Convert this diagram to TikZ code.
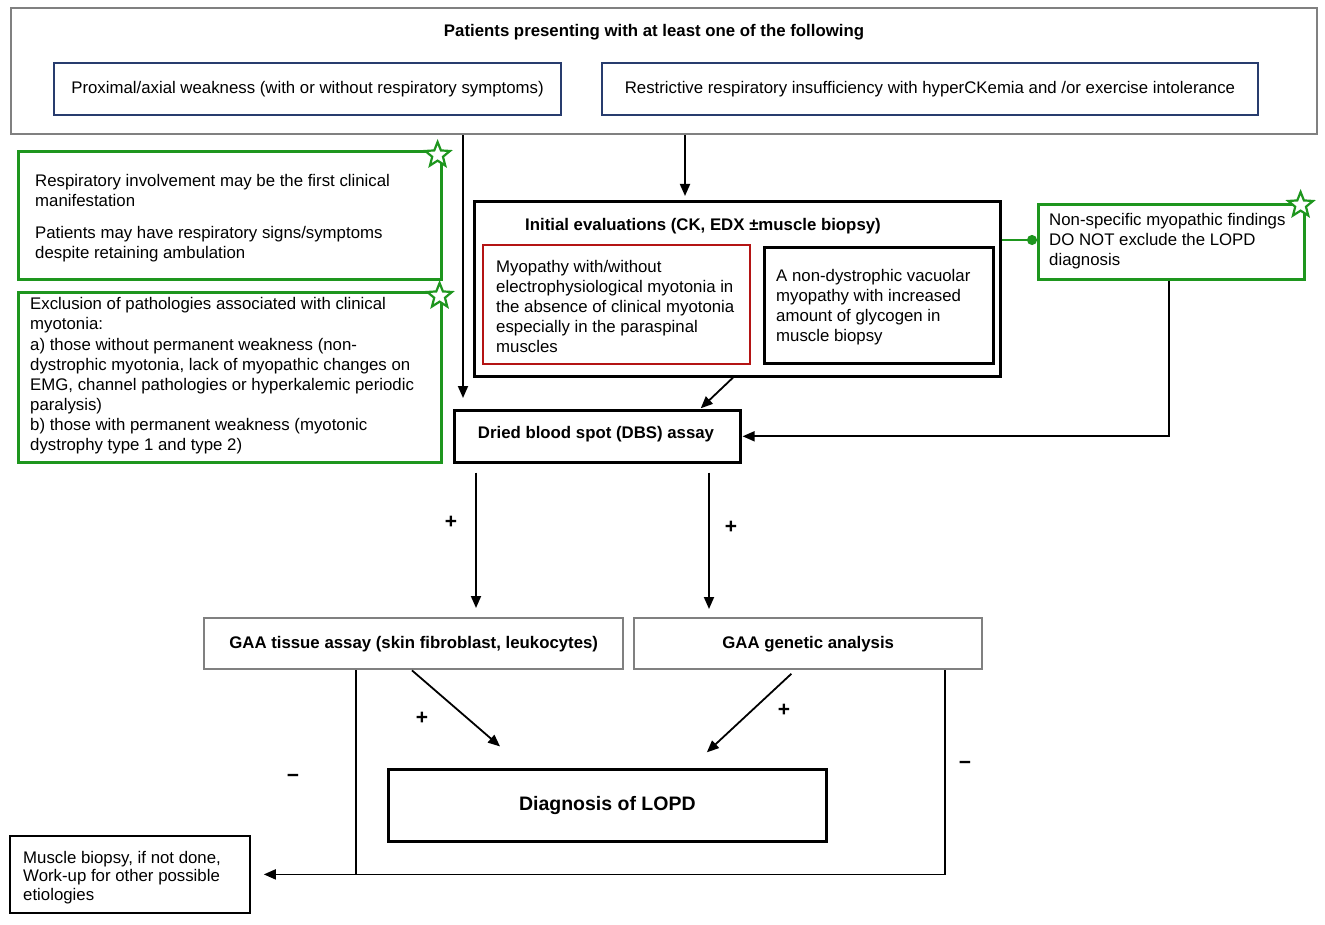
\documentclass[tikz,border=0pt]{standalone}
\usepackage{fontspec}
\setmainfont{Liberation Sans}
\usetikzlibrary{arrows.meta,shapes.geometric}
\definecolor{mygreen}{RGB}{30,150,30}
\definecolor{myblue}{RGB}{40,60,110}
\definecolor{mygray}{RGB}{128,128,128}
\definecolor{myred}{RGB}{180,20,20}
\tikzset{
  every node/.style={font=\fontsize{16.8}{20.1}\selectfont},
  bx/.style={anchor=north west, inner sep=0pt},
  graybox/.style={bx, draw=mygray, line width=2.4pt},
  bluebox/.style={bx, draw=myblue, line width=2pt},
  blackbox/.style={bx, draw=black, line width=2.6pt},
  greenbox/.style={bx, draw=mygreen, line width=2.6pt},
  redbox/.style={bx, draw=myred, line width=2.4pt},
  txt/.style={anchor=north west, align=left, inner sep=0pt},
  bold/.style={font=\fontsize{16.8}{20.1}\selectfont\bfseries},
  arr/.style={draw=black, line width=1.8pt, -{Triangle[length=12pt,width=10pt]}},
  ln/.style={draw=black, line width=1.8pt},
  sgn/.style={font=\fontsize{21}{22}\selectfont\bfseries},
  starmark/.style={star, star points=5, star point ratio=2.3, draw=mygreen, line width=2.2pt, fill=white, minimum size=26pt, inner sep=0pt},
}
\begin{document}
\begin{tikzpicture}[x=1pt,y=-1pt]
\useasboundingbox (0,0) rectangle (1325,925);
% helper coordinates
\foreach \xx in {463,685,476,709,412,525,795,690,356,945,733,700,1169}{\coordinate (c\xx) at (\xx,0);}
\coordinate (r240) at (0,240);
% top box
\node[graybox, minimum width=1306pt, minimum height=126pt] (top) at (10,7) {};
\node[bold] (title) at (654,32) {Patients presenting with at least one of the following};
\node[bluebox, minimum width=507pt, minimum height=52pt] (b1) at (53,62) {Proximal/axial weakness (with or without respiratory symptoms)};
\node[bluebox, minimum width=656pt, minimum height=52pt] (b2) at (601,62) {Restrictive respiratory insufficiency with hyperCKemia and /or exercise intolerance};
% green boxes left
\node[greenbox, minimum width=423pt, minimum height=128pt] (g1) at (17,150) {};
\node[txt] (g1t) at (35,174) {Respiratory involvement may be the first clinical\\manifestation\\[12pt]Patients may have respiratory signs/symptoms\\despite retaining ambulation};
\node[starmark] (s1) at ([xshift=-5pt,yshift=-5pt]g1.north east) {};
\node[greenbox, minimum width=423pt, minimum height=170pt] (g2) at (17,291) {};
\node[txt] (g2t) at (30,297.5) {Exclusion of pathologies associated with clinical\\myotonia:\\a) those without permanent weakness (non-\\dystrophic myotonia, lack of myopathic changes on\\EMG, channel pathologies or hyperkalemic periodic\\paralysis)\\b) those with permanent weakness (myotonic\\dystrophy type 1 and type 2)};
\node[starmark] (s2) at ([xshift=-3pt,yshift=-5pt]g2.north east) {};
% initial evaluations
\node[blackbox, minimum width=526pt, minimum height=175pt] (init) at (473,200) {};
\node[bold, anchor=west, inner sep=0pt] (initt) at (525,226) {Initial evaluations (CK, EDX ±muscle biopsy)};
\node[redbox, minimum width=267pt, minimum height=119pt] (red) at (482,244) {};
\node[txt] (redt) at (496,260) {Myopathy with/without\\electrophysiological myotonia in\\the absence of clinical myotonia\\especially in the paraspinal\\muscles};
\node[blackbox, minimum width=229pt, minimum height=116pt] (blk) at (763,246) {};
\node[txt] (blkt) at (776,269) {A non-dystrophic vacuolar\\myopathy with increased\\amount of glycogen in\\muscle biopsy};
% non-specific
\node[greenbox, minimum width=266pt, minimum height=75pt] (ns) at (1037,203) {};
\node[txt] (nst) at (1049,213) {Non-specific myopathic findings\\DO NOT exclude the LOPD\\diagnosis};
\node[starmark] (s3) at ([xshift=-5pt,yshift=-2pt]ns.north east) {};
% DBS
\node[blackbox, minimum width=286pt, minimum height=52pt] (dbs) at (453,409) {};
\node[bold] (dbst) at (596,434) {Dried blood spot (DBS) assay};
% GAA
\node[graybox, minimum width=419pt, minimum height=51pt, bold] (gt) at (203,617) {GAA tissue assay (skin fibroblast, leukocytes)};
\node[graybox, minimum width=348pt, minimum height=51pt, bold] (gg) at (633,617) {GAA genetic analysis};
% Diagnosis
\node[blackbox, minimum width=438pt, minimum height=72pt, font=\fontsize{19.5}{22}\selectfont\bfseries] (dx) at (387,768) {Diagnosis of LOPD};
% muscle biopsy
\node[bx, draw=black, line width=1.8pt, minimum width=240pt, minimum height=77pt] (mb) at (9,835) {};
\node[txt, font=\fontsize{16.8}{18.6}\selectfont] (mbt) at (23,851) {Muscle biopsy, if not done,\\Work-up for other possible\\etiologies};
% connectors
\draw[arr, shorten >=11pt] (top.south -| c463) -- (dbs.north -| c463);
\draw[arr, shorten >=4pt] (top.south -| c685) -- (init.north -| c685);
\draw[draw=mygreen, line width=1.6pt, -{Circle[length=10pt]}] (init.east |- r240) -- (ns.west |- r240);
\draw[arr, shorten >=1pt] (ns.south -| c1169) |- (dbs.east);
\draw[arr, shorten >=1pt] (init.south -| c733) -- (dbs.north -| c700);
\draw[arr, shorten <=9pt, shorten >=9pt] (dbs.south -| c476) -- (gt.north -| c476);
\draw[arr, shorten <=9pt, shorten >=8pt] (dbs.south -| c709) -- (gg.north -| c709);
\draw[arr, shorten >=33pt] (gt.south -| c412) -- (dx.north -| c525);
\draw[arr, shorten <=5pt, shorten >=23pt] (gg.south -| c795) -- (dx.north -| c690);
\draw[ln] (gt.south -| c356) -- (c356 |- mb.east);
\draw[arr, shorten >=13pt] (gg.south -| c945) |- (mb.east);
% signs
\node[sgn] (p1) at (451,522) {+};
\node[sgn] (p2) at (731,527) {+};
\node[sgn] (p3) at (422,718) {+};
\node[sgn] (p4) at (784,710) {+};
\node[sgn] (m1) at (293,778) {−};
\node[sgn] (m2) at (965,765) {−};
\end{tikzpicture}
\end{document}
